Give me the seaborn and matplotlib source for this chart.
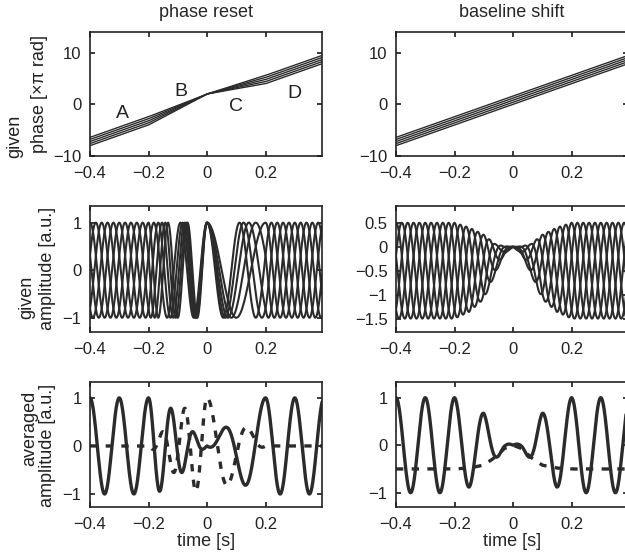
import numpy as np
import matplotlib
matplotlib.use("Agg")
import matplotlib.pyplot as plt
import seaborn as sns

# --- data ---
# time grid (s) and phase knots (in units of pi rad), 5 trials each
t = np.linspace(-0.4, 0.4, 1601)
reset_knot_t = [-0.4, -0.2, 0.0, 0.2, 0.4]
reset_phase = [
    [-8.0, -4.0, 2.0, 4.0, 8.0],
    [-7.6, -3.6, 2.0, 4.4, 8.4],
    [-7.2, -3.2, 2.0, 4.8, 8.8],
    [-6.8, -2.8, 2.0, 5.2, 9.2],
    [-6.4, -2.4, 2.0, 5.6, 9.6],
]
trial_offset = [0.0, 0.4, 0.8, 1.2, 1.6]
shift_knot_t = [-0.4, 0.4]
shift_phase = [
    [-8.0, 8.0],
    [-7.6, 8.4],
    [-7.2, 8.8],
    [-6.8, 9.2],
    [-6.4, 9.6],
]
# baseline shift: envelope and baseline
env_t = [-0.4, -0.2, -0.15, -0.1, -0.06, -0.03, 0.0, 0.03, 0.06, 0.1, 0.15, 0.2, 0.4]
env_val = [1, 1, 0.88, 0.67, 0.3, 0.08, 0.0, 0.08, 0.3, 0.67, 0.88, 1, 1]
base_val = [-0.5, -0.5, -0.48, -0.42, -0.25, -0.07, 0.0, -0.07, -0.25, -0.42, -0.48, -0.5, -0.5]

letters = ["A", "B", "C", "D"]
letter_x = [-0.29, -0.09, 0.10, 0.30]
letter_y = [-1.7, 2.5, -0.4, 2.1]

# --- derived curves ---
ph_reset = [np.interp(t, reset_knot_t, p) for p in reset_phase]
ph_shift = [np.interp(t, shift_knot_t, p) for p in shift_phase]
env = np.interp(t, env_t, env_val)
base = np.interp(t, env_t, base_val)

amp_reset = [np.cos(np.pi * p) for p in ph_reset]
amp_shift = [env * np.cos(np.pi * p) + base for p in ph_shift]

avg_reset = np.mean(amp_reset, axis=0)
aligned_reset = np.mean([np.cos(np.pi * (p - o)) for p, o in zip(ph_reset, trial_offset)], axis=0)
avg_shift = np.mean(amp_shift, axis=0)
aligned_shift = env * np.mean([np.cos(np.pi * (p - o)) for p, o in zip(ph_shift, trial_offset)], axis=0)

# --- figure ---
sns.set_theme(style="ticks")
plt.rcParams["font.family"] = ["Liberation Sans", "DejaVu Sans"]
plt.rcParams.update({
    "xtick.direction": "in", "ytick.direction": "in",
    "xtick.top": True, "ytick.right": True,
    "xtick.major.size": 3.5, "ytick.major.size": 3.5,
    "xtick.labelsize": 12, "ytick.labelsize": 12,
    "axes.linewidth": 1.2, "axes.edgecolor": "#222222",
    "xtick.color": "#222222", "ytick.color": "#222222",
})

W, H = 625, 557
fig = plt.figure(figsize=(W / 100, H / 100), dpi=100)


def make_ax(x0, x1, y0, y1):
    return fig.add_axes([x0 / W, 1 - y1 / H, (x1 - x0) / W, (y1 - y0) / H])


cols = [(90, 322), (396, 628)]
rows = [(32, 156), (206, 332), (382, 507)]
axes = [[make_ax(c[0], c[1], r[0], r[1]) for c in cols] for r in rows]

dark = "#2b2b2b"
dash = (0, (2.2, 2.5))

# row 1: given phase
for p in ph_reset:
    sns.lineplot(x=t, y=p, ax=axes[0][0], color=dark, lw=1.0)
for p in ph_shift:
    sns.lineplot(x=t, y=p, ax=axes[0][1], color=dark, lw=1.0)
for s, lx, ly in zip(letters, letter_x, letter_y):
    axes[0][0].text(lx, ly, s, fontsize=14, ha="center", va="center", color="#222222")

# row 2: given amplitude
for a in amp_reset:
    sns.lineplot(x=t, y=a, ax=axes[1][0], color=dark, lw=1.5)
for a in amp_shift:
    sns.lineplot(x=t, y=a, ax=axes[1][1], color=dark, lw=1.5)

# row 3: averaged amplitude
sns.lineplot(x=t, y=avg_reset, ax=axes[2][0], color=dark, lw=2.4, linestyle=dash)
sns.lineplot(x=t, y=aligned_reset, ax=axes[2][0], color=dark, lw=2.4)
sns.lineplot(x=t, y=avg_shift, ax=axes[2][1], color=dark, lw=2.4, linestyle=dash)
sns.lineplot(x=t, y=aligned_shift, ax=axes[2][1], color=dark, lw=2.4)

ylims = [[(-10, 14), (-10, 14)], [(-1.3, 1.35), (-1.78, 0.85)], [(-1.27, 1.33), (-1.3, 1.33)]]
yticks = [[[-10, 0, 10], [-10, 0, 10]], [[-1, 0, 1], [-1.5, -1, -0.5, 0, 0.5]], [[-1, 0, 1], [-1, 0, 1]]]
for i in range(3):
    for j in range(2):
        ax = axes[i][j]
        ax.set_xlim(-0.4, 0.393)
        ax.set_ylim(*ylims[i][j])
        ax.set_xticks([-0.4, -0.2, 0, 0.2])
        ax.set_xticklabels(["\u22120.4", "\u22120.2", "0", "0.2"])
        ax.set_yticks(yticks[i][j])
        ax.set_yticklabels([("\u2212" + f"{abs(v):g}") if v < 0 else f"{v:g}" for v in yticks[i][j]])
        ax.set_xlabel("")
        ax.set_ylabel("")
        ax.tick_params(axis="x", pad=7)
        ax.tick_params(axis="y", pad=6)

axes[2][0].set_xlabel("time [s]", fontsize=13, labelpad=1)
axes[2][1].set_xlabel("time [s]", fontsize=13, labelpad=1)
axes[0][0].set_title("phase reset", fontsize=13, pad=11)
axes[0][1].set_title("baseline shift", fontsize=13, pad=11)

# two-line y labels (left column)
ylab = [("given", 15, 136), ("phase [\u00d7\u03c0 rad]", 40, 94),
        ("given", 27, 297), ("amplitude [a.u.]", 48, 268),
        ("averaged", 30, 428), ("amplitude [a.u.]", 48, 445)]
for s, px, py in ylab:
    fig.text(px / W, 1 - py / H, s, rotation=90, ha="center", va="center",
             fontsize=13, color="#222222")

fig.savefig("out.png", dpi=100)
